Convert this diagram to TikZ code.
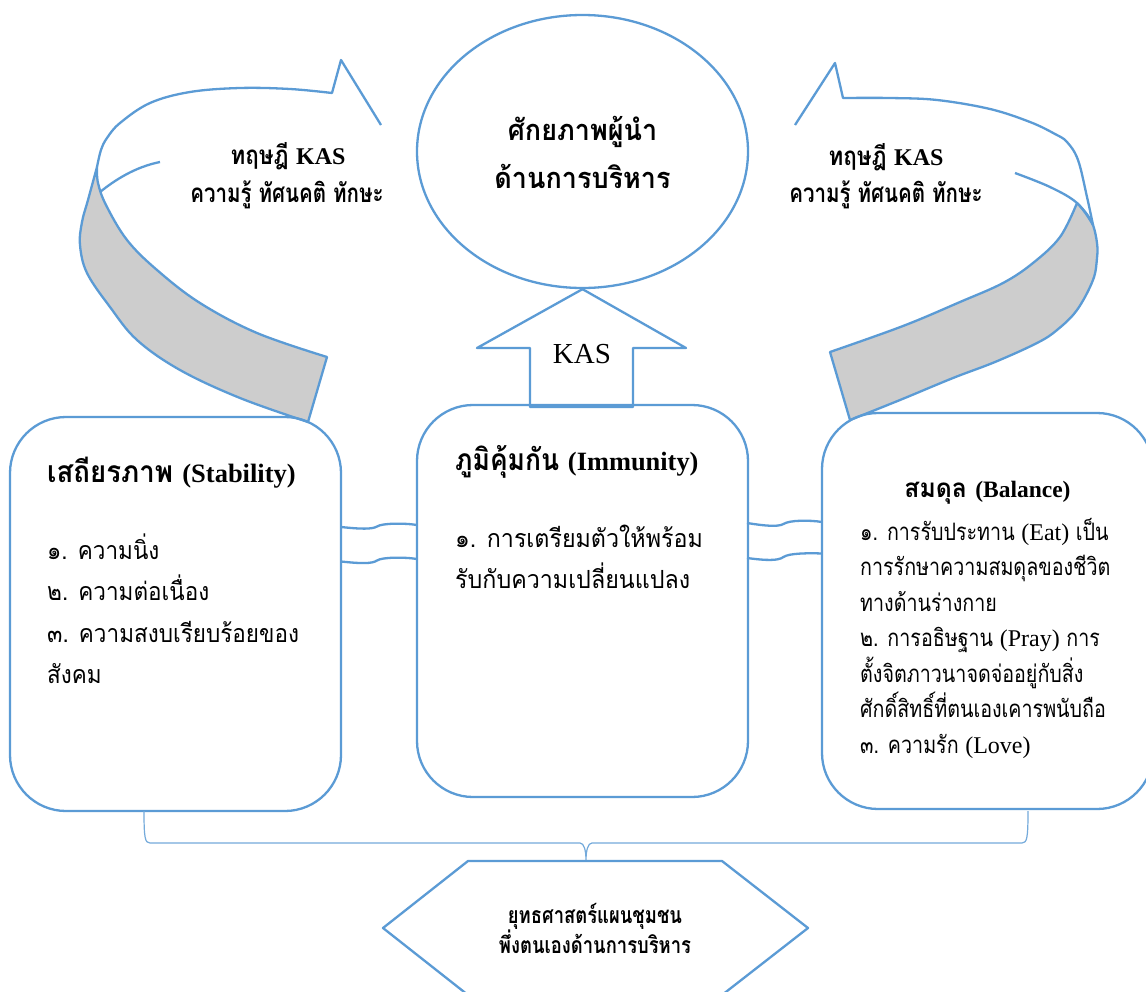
\documentclass[tikz,border=0pt]{standalone}
\usepackage{fontspec}
\usetikzlibrary{shapes.geometric}
\newfontfamily\thf[Script=Thai]{Loma}
\newfontfamily\lat{Liberation Serif}
\newcommand\thfs[1]{\thf\addfontfeatures{FakeStretch=#1}}
\newcommand\entxt[2]{{\lat\fontsize{#1}{#1}\selectfont #2}}
\definecolor{wblue}{HTML}{5B9BD5}
\definecolor{band}{HTML}{CDCDCD}
\begin{document}
\begin{tikzpicture}[x=1pt,y=-1pt,
  shapeline/.style={draw=wblue, line width=2.3pt, line join=round},
  box/.style={shapeline, rectangle, rounded corners=56pt, minimum width=331pt, inner sep=0pt},
  tbl/.style={font=\thfs{0.9}\fontsize{25}{30}\selectfont, anchor=base west, inner sep=0pt},
  tbc/.style={font=\thfs{0.93}\fontsize{25}{30}\selectfont, anchor=base west, inner sep=0pt},
  tbr/.style={font=\thfs{0.82}\fontsize{24}{30}\selectfont, anchor=base west, inner sep=0pt},
  tlab/.style={font=\thfs{0.86}\bfseries\fontsize{26}{30}\selectfont, anchor=base, inner sep=0pt},
  tlabb/.style={font=\thfs{0.79}\bfseries\fontsize{26}{30}\selectfont, anchor=base, inner sep=0pt},
  tgoal/.style={font=\thfs{0.93}\bfseries\fontsize{29}{34}\selectfont, anchor=base, inner sep=0pt},
  thex/.style={font=\thfs{0.8}\bfseries\fontsize{23}{28}\selectfont, anchor=base, inner sep=0pt}
]
\useasboundingbox (0,0) rectangle (1146,991);
\clip (0,0) rectangle (1146,991);
\fill[white] (0,0) rectangle (1146,991);

% left curved arrow
\filldraw[shapeline, fill=band]
  plot[smooth, tension=0.6] coordinates {(97,167) (88,200) (82,222) (80,245) (87,273) (110,307) (137,340) (180,370) (240,398) (308,422)}
  -- (327,357)
  -- plot[smooth, tension=0.6] coordinates {(327,357) (257,333) (200,303) (157,270) (127,240) (106,205) (98,183) (97,167)}
  -- cycle;
\draw[shapeline] plot[smooth, tension=0.6] coordinates {(97,167) (101,150) (107,138) (120,123) (150,103) (190,92) (240,88) (290,89) (332,93)}
  -- (341,60) -- (381,125);
\draw[shapeline] (100,192) .. controls (115,180) and (135,167) .. (160,162);

% right curved arrow
\filldraw[shapeline, fill=band]
  plot[smooth, tension=0.6] coordinates {(1077,203) (1086,213) (1093,225) (1097,243) (1097,258) (1093,280) (1077,310) (1057,330) (1037,343) (995,362) (953,378) (900,400) (850,420)}
  -- (830,352)
  -- plot[smooth, tension=0.6] coordinates {(830,352) (903,326) (960,302) (1003,283) (1033,263) (1060,237) (1077,203)}
  -- cycle;
\draw[shapeline] plot[smooth, tension=0.6] coordinates {(1093,225) (1087,197) (1078,160) (1067,142) (1055,134) (1030,122) (990,109) (937,100) (890,98) (843,98)}
  -- (835,63) -- (795,125);
\draw[shapeline] plot[smooth, tension=0.6] coordinates {(1015,173) (1050,187) (1077,203) (1093,225)};

% central ellipse
\node[shapeline, ellipse, minimum width=331pt, minimum height=273pt, inner sep=0pt] (goal) at (582.5,151.5) {};
\node[tgoal] (g1) at (582.5,140) {ศักยภาพผู้นำ};
\node[tgoal] (g2) at (582.5,188) {ด้านการบริหาร};

% KAS up arrow
\draw[shapeline, fill=white] (goal.south) -- (686,348) -- (633,348) -- (633,407) -- (530,407) -- (530,348) -- (477,348) -- cycle;
\node[anchor=base, inner sep=0pt] (kas) at (582,363) {\entxt{29}{KAS}};

% top labels
\node[tlab] (kl1) at (288,164) {ทฤษฎี \entxt{24}{\bfseries KAS}};
\node[tlabb] (kl2) at (287,202) {ความรู้ ทัศนคติ ทักษะ};
\node[tlab] (kr1) at (886,165) {ทฤษฎี \entxt{24}{\bfseries KAS}};
\node[tlabb] (kr2) at (886,202) {ความรู้ ทัศนคติ ทักษะ};

% boxes
\node[box, minimum height=394pt] (lbox) at (175.5,614) {};
\node[box, minimum height=392pt] (cbox) at (582.5,601) {};
\node[box, minimum height=396pt] (rbox) at (987.5,611) {};

% left box text
\node[font=\thfs{0.92}\bfseries\fontsize{30}{36}\selectfont, anchor=base west, inner sep=0pt] (lh) at (47,482) {เสถียรภาพ \entxt{26.5}{(Stability)}};
\node[tbl] (l1) at (47,559) {๑. ความนิ่ง};
\node[tbl] (l2) at (47,600) {๒. ความต่อเนื่อง};
\node[tbl] (l3) at (47,642) {๓. ความสงบเรียบร้อยของ};
\node[tbl] (l4) at (47,683) {สังคม};

% centre box text
\node[font=\thfs{0.88}\bfseries\fontsize{30}{36}\selectfont, anchor=base west, inner sep=0pt] (ch) at (455,470) {ภูมิคุ้มกัน \entxt{26.4}{(Immunity)}};
\node[tbc] (c1) at (455,547) {๑. การเตรียมตัวให้พร้อม};
\node[tbc] (c2) at (455,588) {รับกับความเปลี่ยนแปลง};

% right box text
\node[font=\thfs{0.95}\bfseries\fontsize{26}{30}\selectfont, anchor=base, inner sep=0pt] (rh) at (987.5,497) {สมดุล \entxt{23.5}{(Balance)}};
\node[tbr] (r1) at (860,540) {๑. การรับประทาน \entxt{24}{(Eat)} เป็น};
\node[tbr] (r2) at (860,575.5) {การรักษาความสมดุลของชีวิต};
\node[tbr] (r3) at (860,611) {ทางด้านร่างกาย};
\node[tbr] (r4) at (860,646.5) {๒. การอธิษฐาน \entxt{24}{(Pray)} การ};
\node[tbr] (r5) at (860,682) {ตั้งจิตภาวนาจดจ่ออยู่กับสิ่ง};
\node[tbr] (r6) at (860,717.5) {ศักดิ์สิทธิ์ที่ตนเองเคารพนับถือ};
\node[tbr] (r7) at (860,753) {๓. ความรัก \entxt{24}{(Love)}};

% wave connectors
\draw[shapeline] (341,527) .. controls (360,529) and (372,529.5) .. (377,526.5) .. controls (382,523) and (405,523) .. (417,525);
\draw[shapeline] (341,561.5) .. controls (360,563.5) and (372,564) .. (377,560.5) .. controls (382,557) and (405,557) .. (417,559);
\draw[shapeline] (747,523) .. controls (766,526) and (778,527) .. (783.5,524) .. controls (789,520) and (810,520) .. (822,522);
\draw[shapeline] (747,558) .. controls (766,560.5) and (778,561) .. (783.5,557) .. controls (789,553) and (810,553) .. (822,553.5);

% brace
\draw[draw=wblue!85, line width=1.2pt] (144,811) .. controls (144,838) and (145,843) .. (150,843) -- (580,843)
  .. controls (584,843) and (586,850) .. (586,861) .. controls (586,850) and (588,843) .. (592,843)
  -- (1022,843) .. controls (1027,843) and (1028,838) .. (1028,811);

% hexagon
\draw[shapeline] (468,861) -- (722,861) -- (808,928) -- (722,995) -- (468,995) -- (383,928) -- cycle;
\node[thex] (h1) at (595,923) {ยุทธศาสตร์แผนชุมชน};
\node[thex] (h2) at (595,953) {พึ่งตนเองด้านการบริหาร};
\end{tikzpicture}
\end{document}
